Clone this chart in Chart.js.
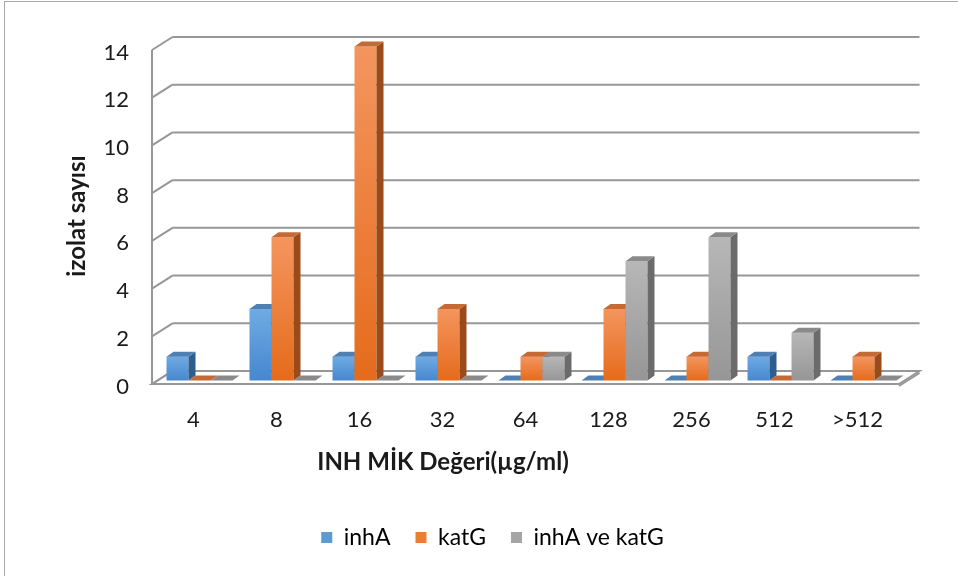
<!DOCTYPE html>
<html>
<head>
<meta charset="utf-8">
<script src="https://cdn.jsdelivr.net/npm/chart.js@4.4.1/dist/chart.umd.min.js"></script>
<style>
  html, body { margin: 0; padding: 0; background: #ffffff; }
  #wrap { width: 958px; height: 576px; position: relative; }
</style>
</head>
<body>
<div id="wrap"><canvas id="c" width="958" height="576"></canvas></div>
<script>
// MIC categories (µg/ml) and isolate counts per mutation group
const categories = ['4', '8', '16', '32', '64', '128', '256', '512', '>512'];
const inhA      = [1, 3, 1, 1, 0, 0, 0, 1, 0];
const katG      = [0, 6, 14, 3, 1, 3, 1, 0, 1];
const inhAkatG  = [0, 0, 0, 0, 1, 5, 6, 2, 0];
const seriesNames = ['inhA', 'katG', 'inhA ve katG'];
const yMin = 0, yMax = 14, yStep = 2;
const xTitle = 'INH MİK Değeri(µg/ml)';
const yTitle = 'izolat sayısı';

const FONT = 'Lato, "Noto Sans", sans-serif';
const TEXT = '#1a1a1a';
const GRID = '#979797';

// face colours for each series: front gradient, top face, side face
const palettes = [
  { light: '#6faae3', dark: '#4787cf', mid: '#5b9bd5', top: '#4f80b4', side: '#2f5d8c' },
  { light: '#f4955e', dark: '#e56b1b', mid: '#ed7d31', top: '#c56a35', side: '#9a4b19' },
  { light: '#b7b7b7', dark: '#969696', mid: '#a5a5a5', top: '#8a8a8a', side: '#6b6b6b' }
];

// 3D projection offsets relative to the plane the bars stand in
const BAR_DEPTH = { dx: 7, dy: -5 };
const FRONT = { dx: -6, dy: 3.5 };
const BACK = { dx: 14.5, dy: -9.5 };

function frontFill(pal) {
  return (ctx) => {
    const chart = ctx.chart;
    const ys = chart.scales && chart.scales.y;
    if (!ys || ctx.type !== 'data') return pal.mid;
    const v = ctx.raw;
    const top = ys.getPixelForValue(v);
    const bot = ys.getPixelForValue(0);
    if (!isFinite(top) || !isFinite(bot) || bot - top < 1) return pal.mid;
    const g = chart.ctx.createLinearGradient(0, top, 0, bot);
    g.addColorStop(0, pal.light);
    g.addColorStop(1, pal.dark);
    return g;
  };
}

function poly(ctx, pts, fill) {
  ctx.beginPath();
  ctx.moveTo(pts[0][0], pts[0][1]);
  for (let i = 1; i < pts.length; i++) ctx.lineTo(pts[i][0], pts[i][1]);
  ctx.closePath();
  ctx.fillStyle = fill;
  ctx.fill();
}

const depthPlugin = {
  id: 'depth3d',
  beforeDraw(chart) {
    const { ctx } = chart;
    // outer frame
    ctx.save();
    ctx.strokeStyle = '#a8a8a8';
    ctx.lineWidth = 1;
    ctx.strokeRect(4.5, 1.5, 1000, 1000);
    ctx.restore();
    // legend row placement
    const lg = chart.legend;
    if (lg) {
      const fs = lg.options.labels.font.size;
      const h = lg.height;
      lg.top = 537.5 - lg.options.labels.padding - fs / 2;
      lg.bottom = lg.top + h;
    }
  },
  beforeDatasetsDraw(chart) {
    const { ctx, chartArea: ca } = chart;
    const ys = chart.scales.y;
    ctx.save();
    ctx.lineWidth = 2;
    ctx.strokeStyle = GRID;
    ctx.lineCap = 'butt';
    const fx = ca.left + FRONT.dx;
    const bx0 = ca.left + BACK.dx;
    const bx1 = ca.right + BACK.dx;
    // back wall gridlines and their left-wall connectors
    for (let v = yMin; v <= yMax; v += yStep) {
      const py = ys.getPixelForValue(v);
      ctx.beginPath();
      if (v !== yMin) {
        ctx.moveTo(bx0, py + BACK.dy);
        ctx.lineTo(bx1, py + BACK.dy);
      }
      ctx.moveTo(fx, py + FRONT.dy);
      ctx.lineTo(bx0, py + BACK.dy);
      ctx.stroke();
    }
    // front vertical axis
    const yTop = ys.getPixelForValue(yMax);
    const y0 = ys.getPixelForValue(yMin);
    ctx.beginPath();
    ctx.moveTo(fx, yTop + FRONT.dy);
    ctx.lineTo(fx, y0 + FRONT.dy + 1);
    ctx.stroke();
    // floor
    const fr = ca.right + FRONT.dx;
    ctx.beginPath();
    ctx.moveTo(fx, y0 + FRONT.dy);
    ctx.lineTo(fr, y0 + FRONT.dy);
    ctx.lineTo(bx1, y0 + BACK.dy);
    ctx.lineTo(bx0, y0 + BACK.dy);
    ctx.closePath();
    ctx.stroke();
    ctx.beginPath();
    ctx.moveTo(fr, y0 + FRONT.dy + 2);
    ctx.lineTo(bx1, y0 + BACK.dy + 2);
    ctx.stroke();
    ctx.restore();

    // bars, painted left to right so nearer faces cover hidden sides
    const metas = chart.data.datasets.map((_, i) => chart.getDatasetMeta(i));
    for (let i = 0; i < categories.length; i++) {
      metas.forEach((meta, d) => {
        const el = meta.data[i];
        if (!el) return;
        const pal = palettes[d];
        const { x, y, base, width } = el.getProps(['x', 'y', 'base', 'width'], true);
        const l = x - width / 2, r = x + width / 2;
        el.draw(ctx, ca);
        ctx.save();
        if (base - y > 0.5) {
          poly(ctx, [[r, y], [r + BAR_DEPTH.dx, y + BAR_DEPTH.dy],
                     [r + BAR_DEPTH.dx, base + BAR_DEPTH.dy], [r, base]], pal.side);
        }
        poly(ctx, [[l, y], [r, y], [r + BAR_DEPTH.dx, y + BAR_DEPTH.dy],
                   [l + BAR_DEPTH.dx, y + BAR_DEPTH.dy]], pal.top);
        ctx.restore();
      });
    }
    return false;
  },
  afterDraw(chart) {
    const { ctx } = chart;
    ctx.save();
    ctx.fillStyle = TEXT;
    ctx.font = 'bold 24px ' + FONT;
    ctx.textAlign = 'center';
    ctx.textBaseline = 'middle';
    ctx.fillText(xTitle, 443, 462);
    ctx.translate(77, 216);
    ctx.rotate(-Math.PI / 2);
    ctx.fillText(yTitle, 0, 0);
    ctx.restore();
  }
};

const seriesData = [inhA, katG, inhAkatG];

new Chart(document.getElementById('c'), {
  type: 'bar',
  data: {
    labels: categories,
    datasets: seriesData.map((vals, d) => ({
      label: seriesNames[d],
      data: vals,
      backgroundColor: frontFill(palettes[d]),
      borderWidth: 0,
      categoryPercentage: 0.795,
      barPercentage: 1
    }))
  },
  options: {
    responsive: false,
    animation: false,
    devicePixelRatio: 1,
    layout: { padding: { left: 80, right: 53, top: 46.5, bottom: 0 } },
    plugins: {
      tooltip: { enabled: false },
      legend: {
        position: 'bottom',
        labels: {
          boxWidth: 11,
          boxHeight: 11,
          padding: 25,
          color: TEXT,
          font: { family: FONT, size: 23 },
          generateLabels(chart) {
            return chart.data.datasets.map((ds, d) => ({
              text: ds.label,
              fillStyle: palettes[d].mid,
              strokeStyle: palettes[d].mid,
              lineWidth: 0,
              hidden: false,
              datasetIndex: d
            }));
          }
        }
      }
    },
    scales: {
      x: {
        grid: { display: false, drawTicks: false, tickLength: 0 },
        border: { display: false },
        ticks: {
          color: TEXT,
          font: { family: FONT, size: 22 },
          padding: 26,
          labelOffset: -6,
          maxRotation: 0,
          autoSkip: false
        },
        afterFit(scale) {
          const lg = scale.chart.legend;
          scale.height = 576 - 380.5 - (lg ? lg.height : 0);
        }
      },
      y: {
        min: yMin,
        max: yMax,
        grid: { display: false, drawTicks: false, tickLength: 0 },
        border: { display: false },
        ticks: {
          stepSize: yStep,
          color: TEXT,
          font: { family: FONT, size: 22 },
          padding: 29,
          labelOffset: 6
        },
        afterFit(scale) { scale.width = 78; }
      }
    }
  },
  plugins: [depthPlugin]
});
</script>
</body>
</html>
